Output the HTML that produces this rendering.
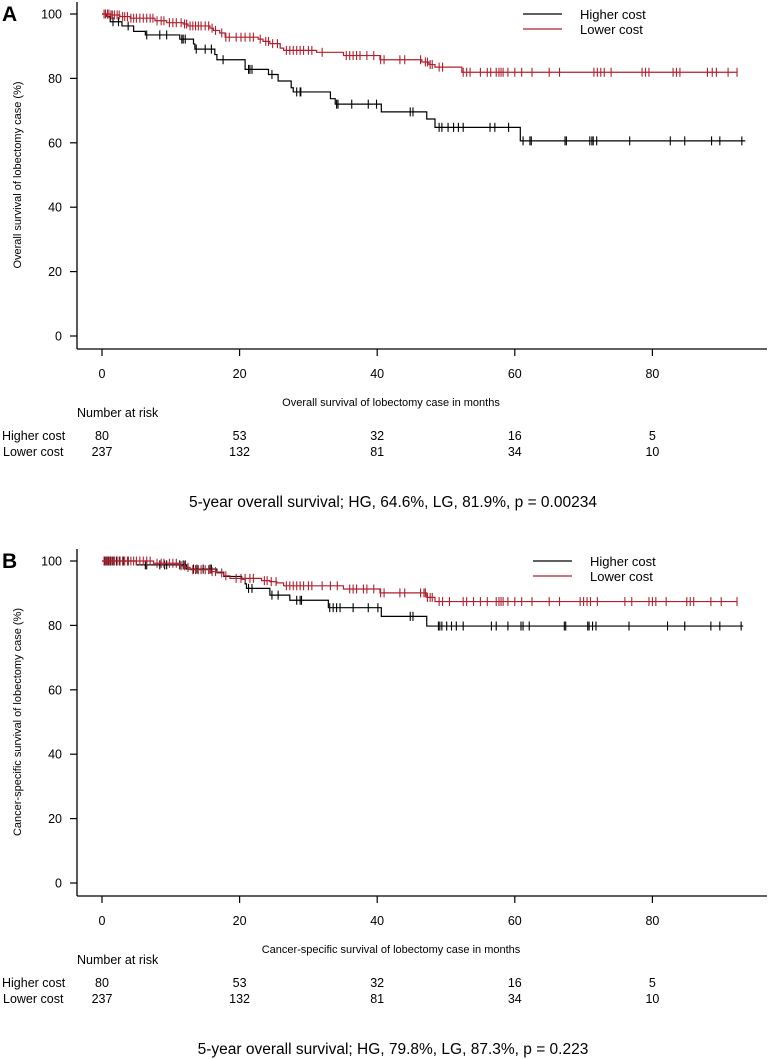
<!DOCTYPE html>
<html><head><meta charset="utf-8"><style>
html,body{margin:0;padding:0;background:#fff;}
svg{display:block;font-family:"Liberation Sans",Arial,sans-serif;}
</style></head><body>
<svg id="fig" width="770" height="1059" viewBox="0 0 770 1059" xmlns="http://www.w3.org/2000/svg"></svg>
<script>
// ---------- data ----------
const xTicks = [0, 20, 40, 60, 80];
const yTicks = [0, 20, 40, 60, 80, 100];
const riskHigher = [80, 53, 32, 16, 5];
const riskLower = [237, 132, 81, 34, 10];

// Panel A (overall survival)
const aHighTimes = [0,0.7,1.2,2.9,4.6,6.3,11.3,13.3,13.5,16.4,16.7,20.8,24.2,25.6,27.5,27.8,33.2,33.9,40.6,47.2,48.4,60.8];
const aHighSurv  = [100,99.2,97.6,96.3,94.6,93.5,92.2,90.7,89.1,87.4,85.8,82.8,81.2,79.2,77.1,75.8,73.7,72.0,69.6,67.4,64.8,60.6];
const aHighEnd = 93.5;
const aHighCens = [1.6,2.4,3.8,6.5,8.4,9.4,11.6,11.8,12.1,13.7,15,15.9,17.6,21.3,21.5,21.8,24.7,28.3,28.8,28.9,34.1,34.3,36.3,38.7,39.9,44.8,45.2,49.0,49.4,50.3,51.1,51.8,52.5,56.4,57.1,59.1,61.2,62.2,62.4,67.3,67.5,70.9,71.2,71.4,71.9,76.7,82.6,84.7,88.6,89.8,93.0];
const aLowTimes = [0,1.2,2.6,4.1,7.7,9.4,11.8,12.5,15.7,16.2,17.1,17.9,22.7,23.4,24.4,25.9,26.4,31.2,35.1,40.4,46.5,47.5,48.4,52.3];
const aLowSurv  = [100,99.7,99.2,98.7,97.9,97.3,96.9,96.3,95.6,94.9,94.1,92.8,92.2,91.5,90.8,89.4,88.7,88.1,87.1,85.8,85.1,84.3,83.5,81.9];
const aLowEnd = 92.3;
const aLowCens = [0.3,0.5,0.8,1,1.3,1.5,1.8,2.2,2.5,3,3.3,3.7,4.2,4.6,5,5.5,6,6.5,7,7.4,8,8.6,9,9.8,10.3,10.8,11.5,12,12.3,12.8,13.2,13.6,14,14.4,15,15.5,16,16.5,17.4,18,18.5,19.5,20.2,20.8,21.5,22,23,23.8,24.2,24.8,25.5,26.8,27.3,27.8,28.3,28.8,29.3,30,30.5,32,35.5,36,36.5,37,37.5,38.5,39.5,40.5,41,43.3,44,46.3,47,47.3,47.7,48,49,49.5,52.5,53,53.5,55,56,56.5,57.3,57.7,58,58.3,59,60,61,62.5,65,66.5,71.5,72,72.5,73,74,78.5,79,79.5,83,83.5,84,88,88.7,89.3,91,92.3];

// Panel B (cancer-specific survival)
const bHighTimes = [0,5.0,12.3,16.7,17.7,20.3,20.8,21.0,24.4,27.3,32.9,40.6,47.2];
const bHighSurv  = [100,98.8,97.5,96.5,95.2,94.4,92.9,91.5,89.4,87.8,85.5,82.8,79.8];
const bHighEnd = 93.2;
const bHighCens = [0.4,0.7,0.9,1.2,1.6,2.1,2.6,3.1,3.8,6.3,6.5,8.4,9.1,9.4,11.3,11.8,12.1,13.3,13.8,14.7,15.7,15.9,21.3,21.8,24.7,25.6,28.3,28.8,29.0,33.1,33.6,34.1,34.6,36.5,38.7,40.1,44.8,45.2,48.9,49.1,49.4,50.1,50.8,51.5,52.5,56.6,57.3,59.0,60.9,61.2,62.1,67.2,67.4,70.6,70.8,71.3,71.8,76.6,82.2,84.7,88.5,89.8,92.9];
const bLowTimes = [0,7.5,11.3,12.1,12.8,15.7,16.7,17.7,18.6,23.2,24.4,25.4,26.4,35.1,40.4,47.2,48.4];
const bLowSurv  = [100,99.3,98.5,98.0,97.3,96.7,96.3,95.4,94.6,93.9,93.6,93.2,92.3,91.3,90.1,88.7,87.4];
const bLowEnd = 92.3;
const bLowCens = [0.3,0.5,0.8,1,1.3,1.5,1.8,2.2,2.5,3,3.3,3.7,4.2,4.6,5,5.5,6,6.5,7,8,8.6,9,9.8,10.3,10.8,11.5,12,12.5,13.2,13.6,14,14.4,15,15.5,16,16.5,17.4,18,19.5,20.2,20.8,21.5,22,23.6,24,24.6,25.3,26.8,27.3,27.8,28.3,28.8,29.3,30,30.5,32,33.2,34.2,36,36.5,37,38,38.5,39.5,40.5,41,43.3,44,46.3,46.8,47,47.3,47.7,48,49,49.5,50.5,52.5,53,54,55,56,57.3,57.7,58,58.3,59,60,61,62.5,65,66.5,69.5,70,70.5,71,72,76,77,79.5,80,80.5,82,85,85.5,86,88.5,90,92.3];

// ---------- drawing ----------
const NS = "http://www.w3.org/2000/svg";
const svg = document.getElementById('fig');
const RED = "#b0202e";
function mk(tag, attrs, parent){
  const e = document.createElementNS(NS, tag);
  for (const k in attrs) e.setAttribute(k, attrs[k]);
  (parent||svg).appendChild(e);
  return e;
}
function txt(s, attrs, parent){ const e = mk('text', attrs, parent); e.textContent = s; return e; }

function survAt(times, surv, t){
  let v = surv[0];
  for (let i=0;i<times.length;i++){ if (times[i] <= t) v = surv[i]; }
  return v;
}

function panel(off, letter, ytitle, xtitle, footer, legX, series){
  const g = mk('g', {});
  
  
  const top = 14 + off, bot = 336 + off;
  const xs = m => 102 + 6.88*m;
  const ys = v => bot - (bot-top)*v/100;
  // panel letter
  const pl = txt(letter, {x:2, y:21+off, 'font-size':21, 'font-weight':'bold', fill:'#000'}, g);
  
  
  // axes
  const ya = mk('line', {x1:77, y1:off+2, x2:77, y2:349+off, stroke:'#000', 'stroke-width':1.3}, g);
  
  
  const xa = mk('line', {x1:77, y1:349+off, x2:767, y2:349+off, stroke:'#000', 'stroke-width':1.3}, g);
  
  
  yTicks.forEach(v => {
    mk('line', {x1:70, y1:ys(v), x2:77, y2:ys(v), stroke:'#000', 'stroke-width':1.2}, g);
    const t = txt(String(v), {x:62, y:ys(v)+4.5, 'font-size':12.5, 'text-anchor':'end'}, g);
    
    
  });
  xTicks.forEach(v => {
    mk('line', {x1:xs(v), y1:349+off, x2:xs(v), y2:356+off, stroke:'#000', 'stroke-width':1.2}, g);
    const t = txt(String(v), {x:xs(v), y:378+off, 'font-size':12.5, 'text-anchor':'middle'}, g);
    
    
  });
  const yt = txt(ytitle, {x:0, y:0, 'font-size':11, 'text-anchor':'middle', transform:`translate(21,${(top+bot)/2}) rotate(-90)`}, g);
  
  
  const xt = txt(xtitle, {x:391, y:406+off, 'font-size':11, 'text-anchor':'middle'}, g);
  
  
  // curves
  series.forEach(s => {
    let d = `M${xs(s.t[0])},${ys(s.v[0])}`;
    for (let i=1;i<s.t.length;i++){ d += ` H${xs(s.t[i])} V${ys(s.v[i])}`; }
    d += ` H${xs(s.end)}`;
    const p = mk('path', {d, fill:'none', stroke:s.c, 'stroke-width':1.2}, g);
    
    
    s.cens.forEach(ct => {
      const yy = ys(survAt(s.t, s.v, ct));
      const m = mk('line', {x1:xs(ct), y1:yy-4.5, x2:xs(ct), y2:yy+4.5, stroke:s.c, 'stroke-width':1.1}, g);
      
      
    });
  });
  // legend
  const lg = mk('g', {}, g);
  
  
  [["Higher cost","#000",14],["Lower cost",RED,29]].forEach(([lab,c,yy]) => {
    mk('line', {x1:legX, y1:yy+off, x2:legX+39, y2:yy+off, stroke:c, 'stroke-width':1.2}, lg);
    const t = txt(lab, {x:legX+57, y:yy+off+5, 'font-size':13}, lg);
    
    
  });
  // risk table
  const nr = txt("Number at risk", {x:77, y:417+off, 'font-size':12.5}, g);
  
  
  txt("Higher cost", {x:2, y:440+off, 'font-size':12.5}, g);
  txt("Lower cost", {x:3, y:456+off, 'font-size':12.5}, g);
  xTicks.forEach((v,i) => {
    const a = txt(String(riskHigher[i]), {x:xs(v), y:440+off, 'font-size':12.5, 'text-anchor':'middle'}, g);
    
    
    const b = txt(String(riskLower[i]), {x:xs(v), y:456+off, 'font-size':12.5, 'text-anchor':'middle'}, g);
    
    
  });
  const ft = txt(footer, {x:393, y:507+off, 'font-size':15.5, 'text-anchor':'middle'}, g);
  
  
}

panel(0, "A", "Overall survival of lobectomy case (%)", "Overall survival of lobectomy case in months",
  "5-year overall survival; HG, 64.6%, LG, 81.9%, p = 0.00234", 523,
  [{name:'higher-cost', t:aHighTimes, v:aHighSurv, end:aHighEnd, cens:aHighCens, c:'#000'},
   {name:'lower-cost', t:aLowTimes, v:aLowSurv, end:aLowEnd, cens:aLowCens, c:RED}]);
panel(547, "B", "Cancer-specific survival of lobectomy case (%)", "Cancer-specific survival of lobectomy case in months",
  "5-year overall survival; HG, 79.8%, LG, 87.3%, p = 0.223", 533,
  [{name:'higher-cost', t:bHighTimes, v:bHighSurv, end:bHighEnd, cens:bHighCens, c:'#000'},
   {name:'lower-cost', t:bLowTimes, v:bLowSurv, end:bLowEnd, cens:bLowCens, c:RED}]);
</script>
</body></html>
